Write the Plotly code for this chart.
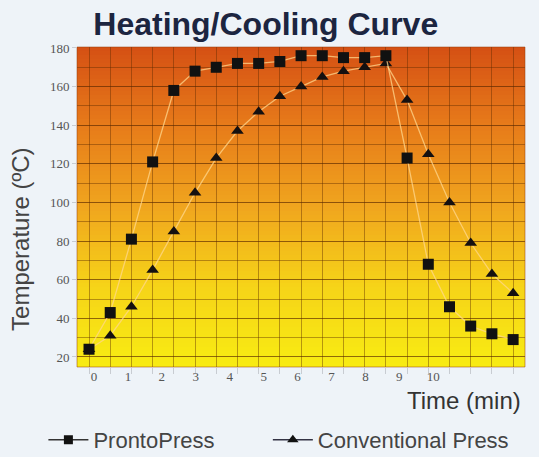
import plotly.graph_objects as go

# ---- data ----
time_min = [0, 0.625, 1.25, 1.875, 2.5, 3.125, 3.75, 4.375, 5.0, 5.625, 6.25,
            6.875, 7.5, 8.125, 8.75, 9.375, 10.0, 10.625, 11.25, 11.875, 12.5]
pronto = [24, 43, 81, 121, 158, 168, 170, 172, 172, 173, 176,
          176, 175, 175, 176, 123, 68, 46, 36, 32, 29]
conventional = [24, 31, 46, 65, 85, 105, 123, 137, 147, 155, 160,
                165, 168, 170, 172, 153, 125, 100, 79, 63, 53]
x_ticks = [0, 1, 2, 3, 4, 5, 6, 7, 8, 9, 10]
y_ticks = [20, 40, 60, 80, 100, 120, 140, 160, 180]

fig = go.Figure()

line_col = "rgba(255,215,140,0.75)"
fig.add_trace(go.Scatter(x=time_min, y=conventional, mode="lines+markers",
                         line=dict(color=line_col, width=1.3),
                         marker=dict(symbol="triangle-up", size=11, color="#151010"),
                         showlegend=False, hoverinfo="skip"))
fig.add_trace(go.Scatter(x=time_min, y=pronto, mode="lines+markers",
                         line=dict(color=line_col, width=1.3),
                         marker=dict(symbol="square", size=11, color="#111111"),
                         showlegend=False, hoverinfo="skip"))
# legend entries
fig.add_trace(go.Scatter(x=[None], y=[None], mode="lines+markers", name="ProntoPress",
                         line=dict(color="#333333", width=1.5), legend="legend",
                         marker=dict(symbol="square", size=9, color="#111111")))
fig.add_trace(go.Scatter(x=[None], y=[None], mode="lines+markers", name="Conventional Press",
                         line=dict(color="#333344", width=1.5), legend="legend2",
                         marker=dict(symbol="triangle-up", size=10, color="#111111")))

# gradient background strips (below gridlines)
stops = [(0.0, (248, 236, 18)), (0.25, (246, 212, 24)), (0.5, (240, 165, 30)),
         (0.75, (231, 124, 26)), (1.0, (213, 80, 20))]

def col_at(t):
    for (a, ca), (b, cb) in zip(stops[:-1], stops[1:]):
        if a <= t <= b:
            f = (t - a) / (b - a)
            return "rgb(%d,%d,%d)" % tuple(round(ca[k] + f * (cb[k] - ca[k])) for k in range(3))
    return "rgb(%d,%d,%d)" % stops[-1][1]

N = 80
shapes = []
for i in range(N):
    y0 = i / N
    y1 = (i + 1) / N + 0.002
    shapes.append(dict(type="rect", xref="paper", yref="paper", x0=0, x1=1, y0=y0, y1=min(y1, 1),
                       fillcolor=col_at((i + 0.5) / N), line=dict(width=0), layer="below"))
shapes.append(dict(type="rect", xref="paper", yref="paper", x0=0, x1=1, y0=0, y1=1,
                   line=dict(color="rgba(150,60,10,0.5)", width=1), fillcolor="rgba(0,0,0,0)",
                   layer="above"))

grid_col = "rgba(90,40,0,0.42)"
legend_font = dict(family="Liberation Sans, Arial", size=22, color="#444444")
fig.update_layout(
    width=539, height=457,
    margin=dict(l=77, r=14, t=47, b=90, autoexpand=False),
    paper_bgcolor="#EEF3F8", plot_bgcolor="rgba(0,0,0,0)",
    shapes=shapes,
    title=dict(text="<b>Heating/Cooling Curve</b>", x=0.493, xanchor="center",
               y=0.947, yanchor="middle", yref="container",
               font=dict(family="Liberation Sans, Arial", size=32, color="#1C2540")),
    xaxis=dict(range=[-0.354, 12.85], tickvals=x_ticks, ticktext=[str(v) for v in x_ticks],
               showgrid=False, zeroline=False, ticks="", ticklabelshift=5,
               tickfont=dict(family="Liberation Serif, Times New Roman", size=13, color="#555555"),
               minor=dict(tick0=0, dtick=0.625, showgrid=True, gridcolor=grid_col, gridwidth=1,
                          ticks="outside", ticklen=6, tickcolor="#C8CCD2")),
    yaxis=dict(range=[14.8, 180.5], tickvals=y_ticks, showgrid=True, gridcolor=grid_col,
               gridwidth=1, zeroline=False, ticks="outside", ticklen=4, tickcolor="#C8CCD2",
               tickfont=dict(family="Liberation Serif, Times New Roman", size=13, color="#555555"),
               minor=dict(dtick=10, tick0=0, showgrid=True, gridcolor=grid_col, gridwidth=1)),
    legend=dict(orientation="h", x=-0.075, xanchor="left", y=-0.228, yanchor="middle",
                font=legend_font, bgcolor="rgba(0,0,0,0)", itemwidth=40),
    legend2=dict(orientation="h", x=0.426, xanchor="left", y=-0.228, yanchor="middle",
                 font=legend_font, bgcolor="rgba(0,0,0,0)", itemwidth=40),
    annotations=[
        dict(text="Temperature (ºC)", xref="paper", yref="paper", x=-0.125, y=0.397,
             textangle=-90, showarrow=False, xanchor="center", yanchor="middle",
             font=dict(family="Liberation Sans, Arial", size=24, color="#444444")),
        dict(text="Time (min)", xref="paper", yref="paper", x=0.9955, y=-0.106,
             showarrow=False, xanchor="right", yanchor="middle",
             font=dict(family="Liberation Sans, Arial", size=24, color="#333333")),
    ],
)

fig.write_html("out.html", config={"displayModeBar": False},
               post_script="document.body.style.margin='0';")
